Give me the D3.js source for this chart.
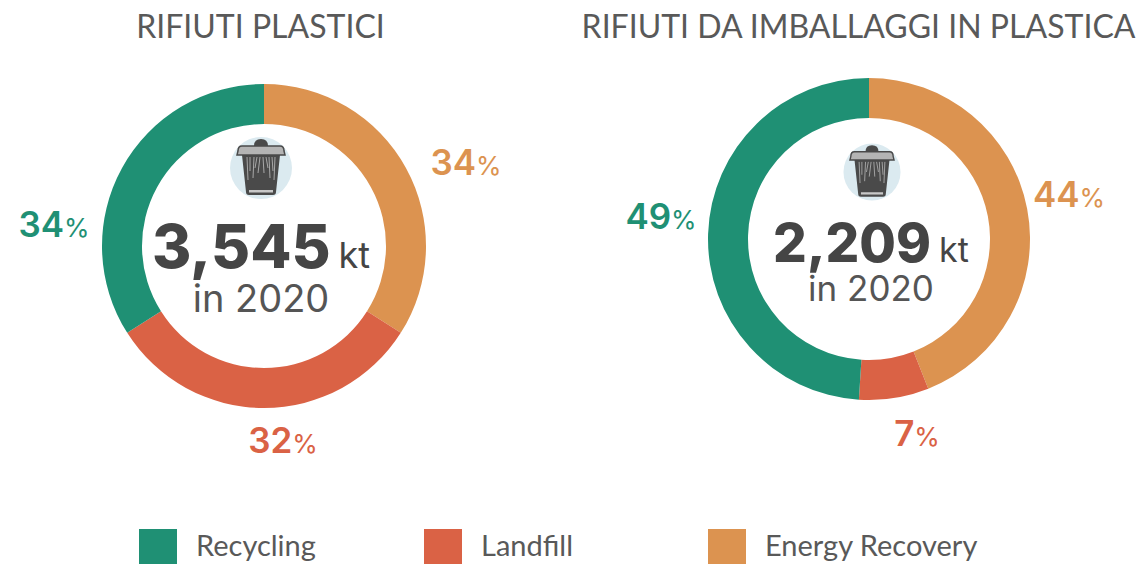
<!DOCTYPE html>
<html lang="it">
<head>
<meta charset="UTF-8">
<script src="https://d3js.org/d3.v7.min.js"></script>
<style>
html, body { margin: 0; background: #fff; }
svg { display: block; }
.title, .legend { font-family: Lato, sans-serif; fill: #595959; }
.num, .lab { font-family: Inter, sans-serif; }
</style>
</head>
<body>
<svg id="chart" width="1140" height="564"></svg>
<script>
var categories = ["Recycling", "Landfill", "Energy Recovery"];
var colors = ["#1f9074", "#da6245", "#dc9350"];
var titles = ["RIFIUTI PLASTICI", "RIFIUTI DA IMBALLAGGI IN PLASTICA"];
var totals = ["3,545", "2,209"];
var year = "in 2020";
var plasticValues = [34, 32, 34];
var packagingValues = [49, 7, 44];

var svg = d3.select("#chart");

// slices go clockwise from the top, energy recovery first
var pie = d3.pie().sort(null).value(function (d) { return d.value; });

function drawIcon(g) {
    g.append("circle").attr("r", 31).attr("fill", "#dbeaf0");
    g.append("path").attr("d", "M-19,-13 L19,-13 L15,24 Q15,27 12,27 L-12,27 Q-15,27 -15,24 Z").attr("fill", "#4a4a4a");
    g.append("path").attr("d", "M-23,-17 Q-23,-22 -19,-22 L19,-22 Q23,-22 23,-17 L24,-13 L-24,-13 Z").attr("fill", "#b4b4b4").attr("stroke", "#4a4a4a").attr("stroke-width", 1.5);
    g.append("path").attr("d", "M-7,-22 Q-7,-29 0,-29 Q7,-29 7,-22 Z").attr("fill", "#4a4a4a");
    g.append("path").attr("d", "M-14,-11 L-13,12 M-11,-11 L-11,3 M-7,-11 L-8,10 M-4,-11 L-6,0 M-1,-11 L-3,5 M2,-11 L3,5 M5,-11 L7,0 M8,-11 L9,10 M11,-11 L12,3 M14,-11 L13,12")
        .attr("stroke", "#a8a8a8").attr("stroke-width", 1).attr("fill", "none");
    g.append("rect").attr("x", -12).attr("y", 22).attr("width", 24).attr("height", 2.5).attr("fill", "#c8c8c8");
}

function drawDonut(opt) {
    var g = svg.append("g").attr("transform", "translate(" + opt.cx + "," + opt.cy + ")");
    var arc = d3.arc().innerRadius(opt.inner).outerRadius(opt.outer);
    // reorder so the ring starts at energy recovery
    var rows = [2, 1, 0].map(function (i) {
        return { name: categories[i], value: opt.values[i], color: colors[i], lab: opt.labels[i] };
    });
    g.selectAll("path.slice").data(pie(rows)).enter().append("path")
        .attr("class", "slice")
        .attr("d", arc)
        .attr("fill", function (d) { return d.data.color; });

    g.selectAll("text.lab").data(rows).enter().append("text")
        .attr("class", "lab")
        .attr("x", function (d) { return d.lab[0]; })
        .attr("y", function (d) { return d.lab[1]; })
        .attr("text-anchor", "middle")
        .attr("fill", function (d) { return d.color; })
        .attr("font-size", 35).attr("font-weight", 600)
        .each(function (d) {
            var t = d3.select(this);
            t.append("tspan").text(d.value);
            t.append("tspan").attr("font-size", 26).attr("font-weight", 400).text("%");
        });

    drawIcon(g.append("g").attr("transform", "translate(" + opt.icon[0] + "," + opt.icon[1] + ") scale(" + opt.icon[2] + ")"));

    var num = g.append("text").attr("class", "num")
        .attr("x", opt.total[0]).attr("y", opt.total[1])
        .attr("text-anchor", "middle").attr("fill", "#454545");
    num.append("tspan").attr("font-size", opt.totalSize).attr("font-weight", 800).text(opt.totalText);
    num.append("tspan").attr("font-size", opt.unitSize).attr("font-weight", 400).attr("dx", 8).text("kt");

    g.append("text").attr("class", "num")
        .attr("x", opt.year[0]).attr("y", opt.year[1])
        .attr("text-anchor", "middle").attr("fill", "#555")
        .attr("font-size", opt.yearSize).text(year);
}

drawDonut({
    cx: 264, cy: 246, outer: 162, inner: 122,
    values: plasticValues, totalText: totals[0], totalSize: 60, unitSize: 36, yearSize: 38,
    labels: [[-210, -9], [19, 207], [202, -71]],
    icon: [-3, -78, 1], total: [-3, 22], year: [-3, 66]
});
drawDonut({
    cx: 869, cy: 239, outer: 161, inner: 121,
    values: packagingValues, totalText: totals[1], totalSize: 53, unitSize: 34, yearSize: 35,
    labels: [[-208, -10], [48, 207], [200, -32]],
    icon: [3, -67, 0.92], total: [2, 23], year: [2, 62]
});

svg.selectAll("text.title").data(titles).enter().append("text")
    .attr("class", "title")
    .attr("x", function (d, i) { return i === 0 ? 260.5 : 858.5; })
    .attr("y", 38)
    .attr("text-anchor", "middle")
    .attr("font-size", 32)
    .text(function (d) { return d; });

var legendX = d3.scaleOrdinal().domain(categories).range([139, 424, 708]);
var legend = svg.selectAll("g.legend-item").data(categories).enter().append("g")
    .attr("class", "legend-item")
    .attr("transform", function (d) { return "translate(" + legendX(d) + ",529)"; });
legend.append("rect").attr("width", 38).attr("height", 35)
    .attr("fill", function (d, i) { return colors[i]; });
legend.append("text").attr("class", "legend")
    .attr("x", 57).attr("y", 27).attr("font-size", 29)
    .text(function (d) { return d; });
</script>
</body>
</html>
